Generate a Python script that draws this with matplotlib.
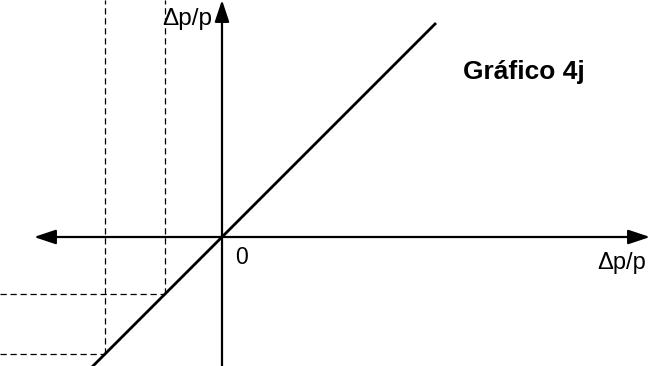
import matplotlib
matplotlib.use("Agg")
import matplotlib.pyplot as plt

# Diagram data (units: offset from origin)
line_x = [-130, 214]
line_y = [-130, 214]
proj_x = [-117, -57]          # dashed projection points on the 45° line
axis_x = [-188, 428]           # horizontal axis extent
axis_y = [-129, 237]           # vertical axis extent
x_label = "Δp/p"
y_label = "Δp/p"
origin_label = "0"
title = "Gráfico 4j"

plt.rcParams['font.family'] = ['Liberation Sans', 'DejaVu Sans']

fig = plt.figure(figsize=(6.64, 3.66), dpi=100)
ax = fig.add_axes([0, 0, 1, 1])
ax.set_xlim(-222, 442)
ax.set_ylim(-129, 237)
ax.axis('off')

arrow = dict(arrowstyle='-|>,head_length=1.2,head_width=0.4', color='black',
             lw=1.6, shrinkA=0, shrinkB=0, mutation_scale=11)
ax.annotate('', xy=(axis_x[1], 0), xytext=(0, 0), arrowprops=arrow)
ax.annotate('', xy=(axis_x[0], 0), xytext=(0, 0), arrowprops=arrow)
ax.annotate('', xy=(0, axis_y[1]), xytext=(0, axis_y[0]), arrowprops=arrow)

ax.plot(line_x, line_y, color='black', lw=2.0, solid_capstyle='butt')

for p in proj_x:
    ax.plot([p, p], [p, axis_y[1]], color='black', lw=0.9, ls=(0, (5, 3)))
    ax.plot([-222, p], [p, p], color='black', lw=0.9, ls=(0, (5, 3)))

ax.text(-60, 212, y_label, fontsize=17.5, ha='left', va='baseline')
ax.text(375, -32, x_label, fontsize=17, ha='left', va='baseline')
ax.text(13, -27, origin_label, fontsize=16.5, ha='left', va='baseline')
ax.text(241, 158, title, fontsize=19, fontweight='bold', ha='left', va='baseline')

fig.savefig('out.png', dpi=100)
